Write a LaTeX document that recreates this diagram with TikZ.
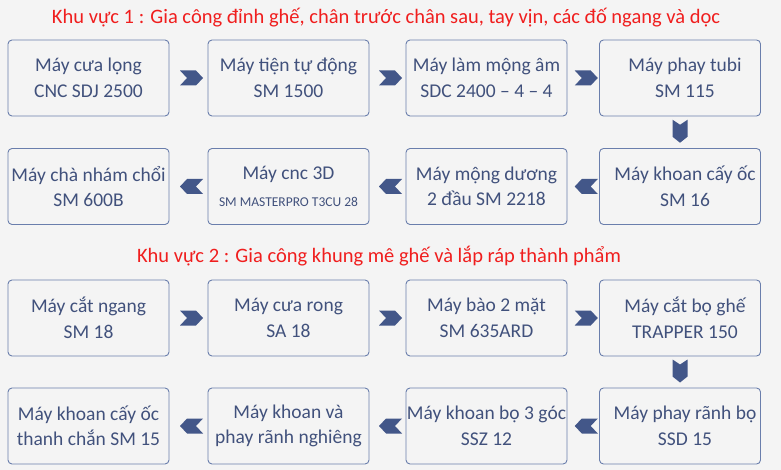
\documentclass[tikz,border=0pt]{standalone}
\usepackage{fontspec}
\setmainfont{Carlito}
\usetikzlibrary{calc}
\definecolor{bg}{HTML}{F4F4F4}
\definecolor{txt}{HTML}{41517C}
\definecolor{bord}{HTML}{6A7EAC}
\definecolor{chevc}{HTML}{435789}
\definecolor{ttl}{HTML}{F01E1E}
\tikzset{
  box/.style={draw=bord, line width=0.9pt, rounded corners=4pt, minimum width=161pt, minimum height=76pt, align=center, text=txt, font=\fontsize{19.5}{25.5}\selectfont, inner sep=0pt},
  ttlstyle/.style={text=ttl, font=\fontsize{20.5}{24}\selectfont, inner sep=0pt},
  chev/.style={fill=chevc, draw=none}
}
\newcommand\sh{\hspace*{10pt}}
\newcommand\chevR[2]{\fill[chev] ($(#1.east)!0.5!(#2.west)+(3,0)$) ++(-11.5,-7.5) -- ++(16,0) -- ++(7,7.5) -- ++(-7,7.5) -- ++(-16,0) -- ++(7,-7.5) -- cycle;}
\newcommand\chevL[2]{\fill[chev] ($(#1.west)!0.5!(#2.east)+(3,0)$) ++(11.5,-7.5) -- ++(-16,0) -- ++(-7,7.5) -- ++(7,7.5) -- ++(16,0) -- ++(-7,-7.5) -- cycle;}
\newcommand\chevD[2]{\fill[chev] ($(#1.south)!0.5!(#2.north)+(0,-1)$) ++(-7.5,-11.5) -- ++(0,17) -- ++(7.5,6) -- ++(7.5,-6) -- ++(0,-17) -- ++(-7.5,5) -- cycle;}
\begin{document}
\begin{tikzpicture}[x=1pt,y=-1pt]
\fill[bg] (0,0) rectangle (781,470);
\useasboundingbox (0,0) rectangle (781,470);
\node[ttlstyle] (t1) at (386,18) {Khu vực 1 : Gia công đỉnh ghế, chân trước chân sau, tay vịn, các đố ngang và dọc};
\node[ttlstyle] (t2) at (379,256) {Khu vực 2 : Gia công khung mê ghế và lắp ráp thành phẩm};
% row 1
\node[box] (a1) at (88.5,78) {Máy cưa lọng\\CNC SDJ 2500};
\node[box] (a2) at (288.5,78) {Máy tiện tự động\\SM 1500};
\node[box] (a3) at (486.5,78) {Máy làm mộng âm\\SDC 2400 – 4 – 4};
\node[box] (a4) at (680,78) {\sh Máy phay tubi\\\sh SM 115};
% row 2
\node[box] (a8) at (88.5,186.5) {Máy chà nhám chổi\\SM 600B};
\node[box] (a7) at (288.5,186.5) {Máy cnc 3D\\[2pt]{\fontsize{13.5}{16}\selectfont SM MASTERPRO T3CU 28}};
\node[box] (a6) at (486.5,186.5) {Máy mộng dương\\2 đầu SM 2218};
\node[box] (a5) at (680,186.5) {\sh Máy khoan cấy ốc\\\sh SM 16};
% row 3
\node[box] (b1) at (88.5,318) {Máy cắt ngang\\SM 18};
\node[box] (b2) at (288.5,318) {Máy cưa rong\\SA 18};
\node[box] (b3) at (486.5,318) {Máy bào 2 mặt\\SM 635ARD};
\node[box] (b4) at (680,318) {\sh Máy cắt bọ ghế\\\sh TRAPPER 150};
% row 4
\node[box] (b8) at (88.5,426) {Máy khoan cấy ốc\\thanh chắn SM 15};
\node[box] (b7) at (288.5,426) {Máy khoan và\\phay rãnh nghiêng};
\node[box] (b6) at (486.5,426) {Máy khoan bọ 3 góc\\SSZ 12};
\node[box] (b5) at (680,426) {\sh Máy phay rãnh bọ\\\sh SSD 15};
% chevrons
\chevR{a1}{a2}\chevR{a2}{a3}\chevR{a3}{a4}
\chevD{a4}{a5}
\chevL{a5}{a6}\chevL{a6}{a7}\chevL{a7}{a8}
\chevR{b1}{b2}\chevR{b2}{b3}\chevR{b3}{b4}
\chevD{b4}{b5}
\chevL{b5}{b6}\chevL{b6}{b7}\chevL{b7}{b8}
\end{tikzpicture}
\end{document}
